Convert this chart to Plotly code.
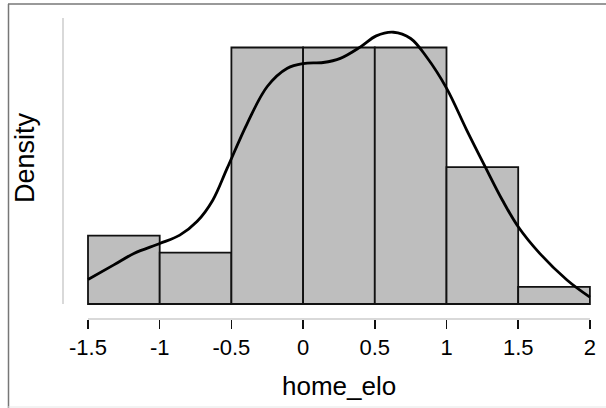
import plotly.graph_objects as go

# Histogram data
bin_left = [-1.5, -1.0, -0.5, 0.0, 0.5, 1.0, 1.5]
bin_width = 0.5
counts = [4, 3, 15, 15, 15, 8, 1]

# Density curve points
curve_x = [-1.5, -1.32, -1.18, -1.0, -0.86, -0.74, -0.63, -0.53, -0.39, -0.25, -0.11,
           0.0, 0.14, 0.26, 0.4, 0.51, 0.63, 0.75, 0.86, 1.0, 1.14, 1.27, 1.39,
           1.5, 1.65, 1.84, 2.0]
curve_y = [0.047, 0.075, 0.097, 0.116, 0.132, 0.158, 0.199, 0.260, 0.346, 0.417, 0.452,
           0.461, 0.463, 0.471, 0.493, 0.514, 0.521, 0.509, 0.474, 0.414, 0.334, 0.263, 0.199,
           0.148, 0.097, 0.046, 0.013]

tick_vals = [-1.5, -1, -0.5, 0, 0.5, 1, 1.5, 2]
tick_text = ["-1.5", "-1", "-0.5", "0", "0.5", "1", "1.5", "2"]

n = sum(counts)
density = [c / (n * bin_width) for c in counts]
centers = [b + bin_width / 2 for b in bin_left]

FONT = "Liberation Sans, Arial, sans-serif"

fig = go.Figure()
fig.add_trace(go.Bar(
    x=centers, y=density, width=[bin_width] * len(counts),
    marker=dict(color="#bebebe", line=dict(color="#111111", width=1.8)),
    hoverinfo="skip", showlegend=False,
))
fig.add_trace(go.Scatter(
    x=curve_x, y=curve_y, mode="lines",
    line=dict(color="black", width=2.8, shape="spline", smoothing=1.0),
    hoverinfo="skip", showlegend=False,
))

W, H = 606, 408
L, R, T, B = 63, 6, 18, 89
pw = W - L - R
ph = H - T - B
px_per_x = 143.4
px_per_y = 521.6
x0 = -1.5 - 25 / px_per_x
x1 = x0 + pw / px_per_x
y0 = -15 / px_per_y
y1 = y0 + ph / px_per_y

def px2paperx(px):
    return (px - L) / pw

def py2papery(py):
    return (H - B - py) / ph

shapes = [
    # y axis line (light grey)
    dict(type="line", xref="paper", yref="y", x0=0, x1=0, y0=0, y1=y1,
         line=dict(color="#cccccc", width=1.5)),
    # x axis line (light grey)
    dict(type="line", xref="x", yref="paper", x0=tick_vals[0], x1=tick_vals[-1], y0=0, y1=0,
         line=dict(color="#cccccc", width=1.5)),
    # outer frame: left & top dark grey, bottom light
    dict(type="line", xref="paper", yref="paper", x0=px2paperx(8.5), x1=px2paperx(8.5),
         y0=py2papery(4), y1=py2papery(410), line=dict(color="#777777", width=1.5)),
    dict(type="line", xref="paper", yref="paper", x0=px2paperx(8), x1=px2paperx(610),
         y0=py2papery(4), y1=py2papery(4), line=dict(color="#777777", width=1.5)),
    dict(type="line", xref="paper", yref="paper", x0=px2paperx(8), x1=px2paperx(610),
         y0=py2papery(407), y1=py2papery(407), line=dict(color="#e6e6e6", width=1)),
]

annotations = [
    dict(text="home_elo", x=0.25, xref="x", y=py2papery(386), yref="paper",
         xanchor="center", yanchor="middle", showarrow=False,
         font=dict(family=FONT, size=26, color="black")),
    dict(text="Density", x=px2paperx(25), xref="paper", y=py2papery(158), yref="paper",
         xanchor="center", yanchor="middle", showarrow=False, textangle=-90,
         font=dict(family=FONT, size=27, color="black")),
]

fig.update_layout(
    width=W, height=H,
    margin=dict(l=L, r=R, t=T, b=B, pad=0),
    paper_bgcolor="white", plot_bgcolor="white",
    bargap=0,
    shapes=shapes, annotations=annotations,
    xaxis=dict(range=[x0, x1], showgrid=False, zeroline=False, showline=False,
               tickmode="array", tickvals=tick_vals, ticktext=tick_text,
               ticks="outside", ticklen=9, tickwidth=1.5, tickcolor="#111111",
               tickfont=dict(family=FONT, size=22, color="black")),
    yaxis=dict(range=[y0, y1], showgrid=False, zeroline=False, showline=False,
               showticklabels=False, ticks=""),
)

fig.write_html(
    "out.html",
    config={"displayModeBar": False, "staticPlot": True},
    post_script="document.body.style.margin='0';document.body.style.overflow='hidden';",
)
